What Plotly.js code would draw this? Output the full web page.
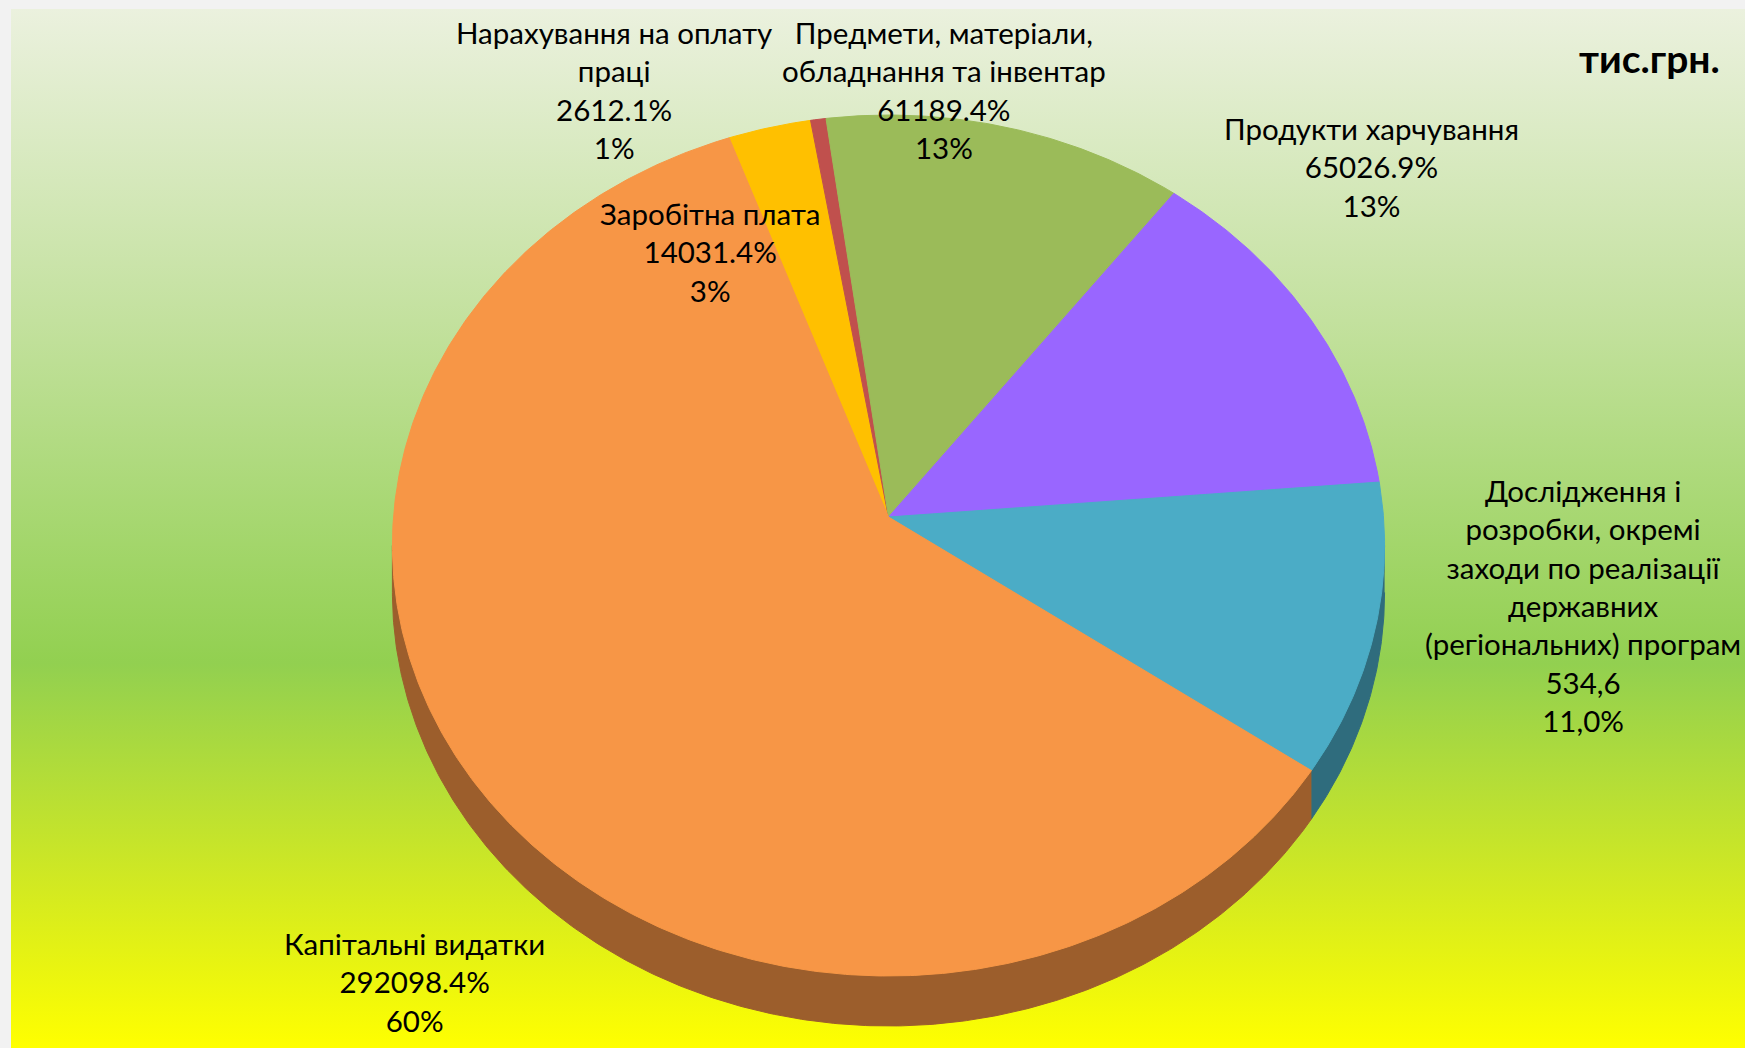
<!DOCTYPE html>
<html>
<head>
<meta charset="utf-8">
<script src="https://cdn.plot.ly/plotly-3.0.1.min.js"></script>
<style>
  html, body { margin: 0; padding: 0; background: #f2f2f2; width: 1745px; height: 1048px; overflow: hidden; }
  #bg { position: absolute; left: 11px; top: 9px; width: 1734px; height: 1039px;
        background: linear-gradient(to bottom, #ebf1de 0%, #c3e19e 30%, #92d050 63%, #d4ea20 85%, #ffff00 100%); }
  #chart { position: absolute; left: 0; top: 0; width: 1745px; height: 1048px; }
</style>
</head>
<body>
<div id="bg"></div>
<div id="chart"></div>
<script>
// ---- data (clockwise from the top, starting with the yellow slice) ----
const categories = [
  'Заробітна плата',
  'Нарахування на оплату праці',
  'Предмети, матеріали, обладнання та інвентар',
  'Продукти харчування',
  'Дослідження і розробки, окремі заходи по реалізації державних (регіональних) програм',
  'Капітальні видатки'
];
const values = [14031.4, 2612.1, 61189.4, 65026.9, 53460, 292098.4];
const categoryLabels = [
  'Заробітна плата',
  'Нарахування на оплату<br>праці',
  'Предмети, матеріали,<br>обладнання та інвентар',
  'Продукти харчування',
  'Дослідження і<br>розробки, окремі<br>заходи по реалізації<br>державних<br>(регіональних) програм',
  'Капітальні видатки'
];
const valueLabels = ['14031.4%', '2612.1%', '61189.4%', '65026.9%', '534,6', '292098.4%'];
const percentLabels = ['3%', '1%', '13%', '13%', '11,0%', '60%'];
const unitLabel = 'тис.грн.';

// ---- styles ----
const topColors  = ['#FFC000', '#C0504D', '#9BBB59', '#9966FF', '#4BACC6', '#F79646'];
const sideColors = ['#A17900', '#7A3331', '#62763A', '#6140A1', '#2F6C7D', '#9C5E2C'];
const labelPos = [
  {x: 710,  y: 252},
  {x: 614,  y: 90},
  {x: 944,  y: 90},
  {x: 1371, y: 167},
  {x: 1583, y: 605},
  {x: 414,  y: 982}
];

// ---- 3D pie geometry (pixel units on hidden axes) ----
const geo = {cx: 888.5, cy: 517, rx: 495, ry: 428.6, p: 0.0662, h: 46.7, start: -20};

function pt(deg, drop) {
  const t = deg * Math.PI / 180;
  const k = 1 / (1 + geo.p * Math.cos(t));
  return [geo.cx + geo.rx * Math.sin(t) * k,
          geo.cy - geo.ry * Math.cos(t) * k + (drop ? geo.h * k : 0)];
}
function arc(a, b, drop) {
  const xs = [], ys = [];
  const n = Math.max(2, Math.ceil(Math.abs(b - a) / 0.5));
  for (let i = 0; i <= n; i++) {
    const d = a + (b - a) * i / n;
    const q = pt(d, drop);
    xs.push(q[0]); ys.push(q[1]);
  }
  return [xs, ys];
}

const total = values.reduce((s, v) => s + v, 0);
const spans = values.map(v => v / total * 360);
const starts = [];
let acc = geo.start;
spans.forEach(s => { starts.push(acc); acc += s; });

const vis0 = Math.acos(-geo.p) * 180 / Math.PI;
const vis1 = 360 - vis0;

const sideTraces = [];
const topTraces = [];
values.forEach((v, i) => {
  let a = ((starts[i] % 360) + 360) % 360;
  const b = a + spans[i];
  [0, 360].forEach(off => {
    const lo = Math.max(a, vis0 + off), hi = Math.min(b, vis1 + off);
    if (hi > lo) {
      const t1 = arc(lo, hi, false), t2 = arc(hi, lo, true);
      sideTraces.push({
        type: 'scatter', mode: 'lines', fill: 'toself',
        x: t1[0].concat(t2[0]), y: t1[1].concat(t2[1]),
        fillcolor: sideColors[i], line: {color: sideColors[i], width: 1},
        hoverinfo: 'skip', showlegend: false
      });
    }
  });
  const t = arc(starts[i], starts[i] + spans[i], false);
  topTraces.push({
    type: 'scatter', mode: 'lines', fill: 'toself', name: categories[i],
    x: [geo.cx].concat(t[0], [geo.cx]), y: [geo.cy].concat(t[1], [geo.cy]),
    fillcolor: topColors[i], line: {color: topColors[i], width: 1},
    hoverinfo: 'skip', showlegend: false
  });
});

const annotations = values.map((v, i) => ({
  x: labelPos[i].x, y: labelPos[i].y, xref: 'x', yref: 'y',
  text: categoryLabels[i] + '<br>' + valueLabels[i] + '<br>' + percentLabels[i],
  showarrow: false, xanchor: 'center', yanchor: 'middle', align: 'center',
  font: {family: 'Lato, "Open Sans", sans-serif', size: 29.5, color: '#000000'}
}));
annotations.push({
  x: 1722, y: 58, xref: 'x', yref: 'y', text: '<b>' + unitLabel + '</b>',
  showarrow: false, xanchor: 'right', yanchor: 'middle',
  font: {family: 'Lato, "Open Sans", sans-serif', size: 39, color: '#000000'}
});

const layout = {
  width: 1745, height: 1048,
  margin: {l: 0, r: 0, t: 0, b: 0, pad: 0},
  paper_bgcolor: 'rgba(0,0,0,0)', plot_bgcolor: 'rgba(0,0,0,0)',
  xaxis: {range: [0, 1745], visible: false, fixedrange: true},
  yaxis: {range: [1048, 0], visible: false, fixedrange: true},
  showlegend: false,
  annotations: annotations
};

Plotly.newPlot('chart', sideTraces.concat(topTraces), layout, {staticPlot: true, displayModeBar: false});
</script>
</body>
</html>
